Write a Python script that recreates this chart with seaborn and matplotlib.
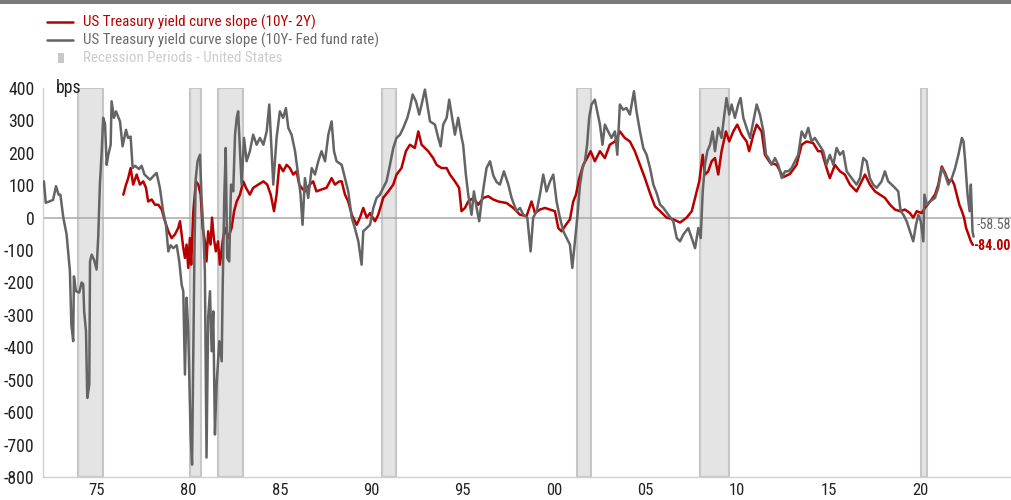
import numpy as np
import pandas as pd
import matplotlib
matplotlib.use("Agg")
import matplotlib.pyplot as plt
import seaborn as sns
from matplotlib import font_manager
from matplotlib.lines import Line2D
from matplotlib.patches import Rectangle

# ---------------------------------------------
#  data (decimal years / bps)
# ---------------------------------------------
fed_years = [1972.05, 1972.1, 1972.2, 1972.4, 1972.6, 1972.76, 1972.9, 1973.0, 1973.16, 1973.34,
             1973.52, 1973.6, 1973.7, 1973.74, 1973.85, 1974.03, 1974.16, 1974.25, 1974.3, 1974.4,
             1974.47, 1974.58, 1974.62, 1974.71, 1974.84, 1974.98, 1975.07, 1975.16, 1975.26, 1975.34,
             1975.44, 1975.53, 1975.62, 1975.75, 1975.8, 1975.93, 1976.04, 1976.26, 1976.4, 1976.59,
             1976.7, 1976.84, 1976.95, 1977.08, 1977.3, 1977.44, 1977.6, 1977.9, 1978.08, 1978.26,
             1978.44, 1978.62, 1978.77, 1978.9, 1979.03, 1979.17, 1979.36, 1979.5, 1979.63, 1979.72,
             1979.81, 1979.9, 1979.99, 1980.12, 1980.2, 1980.27, 1980.33, 1980.4, 1980.5, 1980.63,
             1980.72, 1980.81, 1980.9, 1980.99, 1981.08, 1981.18, 1981.27, 1981.36, 1981.45, 1981.54,
             1981.69, 1981.82, 1981.87, 1981.96, 1982.04, 1982.12, 1982.23, 1982.33, 1982.45, 1982.55,
             1982.64, 1982.72, 1982.82, 1982.91, 1983.04, 1983.18, 1983.36, 1983.54, 1983.73, 1983.91,
             1984.1, 1984.28, 1984.42, 1984.55, 1984.64, 1984.82, 1985.0, 1985.18, 1985.33, 1985.46,
             1985.64, 1985.83, 1986.0, 1986.13, 1986.24, 1986.37, 1986.55, 1986.74, 1986.92, 1987.1,
             1987.28, 1987.47, 1987.65, 1987.83, 1987.96, 1988.1, 1988.38, 1988.56, 1988.74, 1988.93,
             1989.1, 1989.29, 1989.47, 1989.56, 1989.75, 1989.93, 1990.11, 1990.29, 1990.47, 1990.65,
             1990.83, 1991.02, 1991.2, 1991.38, 1991.57, 1991.75, 1991.97, 1992.11, 1992.26, 1992.44,
             1992.62, 1992.75, 1992.93, 1993.06, 1993.21, 1993.48, 1993.66, 1993.79, 1993.93, 1994.12,
             1994.26, 1994.39, 1994.57, 1994.75, 1994.94, 1995.02, 1995.17, 1995.3, 1995.48, 1995.61,
             1995.76, 1995.9, 1996.03, 1996.16, 1996.3, 1996.49, 1996.67, 1996.85, 1997.03, 1997.25,
             1997.49, 1997.67, 1997.94, 1998.13, 1998.31, 1998.53, 1998.71, 1998.85, 1999.04, 1999.22,
             1999.4, 1999.58, 1999.77, 1999.95, 2000.13, 2000.31, 2000.5, 2000.68, 2000.86, 2000.99,
             2001.13, 2001.26, 2001.41, 2001.55, 2001.68, 2001.8, 2001.91, 2002.04, 2002.22, 2002.35,
             2002.5, 2002.64, 2002.77, 2002.95, 2003.13, 2003.32, 2003.45, 2003.59, 2003.77, 2003.95,
             2004.14, 2004.36, 2004.5, 2004.69, 2004.87, 2005.05, 2005.24, 2005.42, 2005.6, 2005.79,
             2005.97, 2006.24, 2006.51, 2006.7, 2006.88, 2007.06, 2007.33, 2007.52, 2007.7, 2007.88,
             2008.01, 2008.12, 2008.24, 2008.37, 2008.52, 2008.66, 2008.79, 2008.97, 2009.15, 2009.28,
             2009.42, 2009.57, 2009.7, 2009.88, 2010.06, 2010.19, 2010.34, 2010.52, 2010.71, 2010.89,
             2011.07, 2011.25, 2011.44, 2011.58, 2011.71, 2011.89, 2012.07, 2012.25, 2012.44, 2012.62,
             2012.8, 2012.98, 2013.16, 2013.34, 2013.53, 2013.71, 2013.89, 2014.07, 2014.25, 2014.43,
             2014.71, 2014.89, 2015.07, 2015.26, 2015.44, 2015.62, 2015.8, 2015.99, 2016.26, 2016.53,
             2016.72, 2016.9, 2017.08, 2017.26, 2017.44, 2017.63, 2017.9, 2018.08, 2018.26, 2018.45,
             2018.63, 2018.81, 2018.94, 2019.09, 2019.27, 2019.45, 2019.63, 2019.78, 2019.91, 2020.04,
             2020.18, 2020.24, 2020.37, 2020.55, 2020.82, 2021.0, 2021.19, 2021.37, 2021.55, 2021.74,
             2021.92, 2022.1, 2022.29, 2022.38, 2022.47, 2022.6, 2022.71, 2022.78, 2022.87, 2022.93]
fed_bps = [110, 112, 46, 50, 55, 97, 71, 71, 0, -52,
           -165, -330, -381, -181, -227, -231, -200, -205, -289, -350,
           -556, -515, -135, -114, -130, -160, -58, 102, 205, 308,
           290, 163, 194, 225, 359, 308, 328, 297, 220, 271,
           246, 250, 153, 160, 150, 160, 133, 117, 128, 138,
           92, 19, -22, -104, -85, -94, -85, -135, -207, -227,
           -484, -247, -350, -669, -762, -400, -100, 120, 174, 194,
           60, -31, -165, -740, -309, -227, -412, -289, -669, -515,
           -381, -443, -227, 61, 215, -124, -135, 102, 81, 256,
           308, 328, 205, 102, 246, 174, 205, 256, 225, 246,
           225, 266, 349, 205, 102, 246, 328, 308, 338, 277,
           256, 205, 133, 71, -22, 122, 61, 153, 133, 174,
           205, 174, 256, 297, 205, 174, 163, 122, 81, 0,
           -32, -73, -145, -42, -32, -22, 30, 61, 71, 92,
           112, 163, 215, 246, 256, 277, 308, 338, 380, 359,
           318, 349, 395, 349, 297, 287, 246, 220, 287, 308,
           364, 318, 256, 308, 246, 225, 133, 71, 9, 81,
           30, -11, 50, 102, 153, 174, 130, 110, 102, 143,
           102, 61, 20, 30, 9, 0, -104, 0, 20, 71,
           133, 81, 112, 133, 50, 0, -42, -63, -83, -155,
           -73, 0, 102, 153, 174, 225, 308, 349, 364, 328,
           287, 225, 287, 266, 246, 266, 194, 349, 333, 338,
           318, 390, 328, 266, 215, 194, 153, 102, 76, 40,
           30, 9, -11, -63, -73, -52, -32, -63, -94, -32,
           -63, 81, 163, 205, 225, 266, 205, 277, 246, 308,
           369, 318, 349, 308, 349, 369, 308, 277, 246, 297,
           349, 318, 266, 194, 184, 163, 184, 163, 122, 143,
           143, 153, 174, 194, 266, 246, 277, 235, 246, 230,
           205, 163, 194, 163, 215, 194, 205, 143, 122, 102,
           122, 184, 174, 122, 102, 92, 112, 143, 112, 102,
           92, 81, 20, 9, -11, -42, -73, -22, 9, -11,
           -73, 71, 40, 50, 61, 92, 153, 133, 102, 122,
           153, 194, 246, 235, 174, 71, 20, 102, -42, -58.58]

slope_years = [1976.44, 1976.59, 1976.71, 1976.84, 1976.98, 1977.17, 1977.35, 1977.53, 1977.68, 1977.8,
               1977.99, 1978.17, 1978.35, 1978.54, 1978.72, 1978.9, 1979.08, 1979.26, 1979.44, 1979.54,
               1979.63, 1979.72, 1979.81, 1979.9, 1979.99, 1980.08, 1980.15, 1980.27, 1980.41, 1980.54,
               1980.67, 1980.78, 1980.9, 1980.99, 1981.08, 1981.21, 1981.29, 1981.39, 1981.5, 1981.62,
               1981.72, 1981.87, 1981.99, 1982.17, 1982.36, 1982.5, 1982.64, 1982.82, 1983.0, 1983.15,
               1983.36, 1983.54, 1983.82, 1984.1, 1984.31, 1984.5, 1984.68, 1984.82, 1984.97, 1985.18,
               1985.37, 1985.55, 1985.73, 1985.91, 1986.06, 1986.19, 1986.37, 1986.64, 1986.82, 1987.0,
               1987.28, 1987.55, 1987.83, 1988.01, 1988.25, 1988.38, 1988.56, 1988.74, 1988.93, 1989.2,
               1989.38, 1989.56, 1989.75, 1989.93, 1990.2, 1990.38, 1990.65, 1990.93, 1991.2, 1991.38,
               1991.65, 1991.89, 1992.11, 1992.38, 1992.57, 1992.75, 1992.93, 1993.11, 1993.38, 1993.57,
               1993.84, 1994.12, 1994.3, 1994.57, 1994.8, 1994.93, 1995.12, 1995.3, 1995.58, 1995.85,
               1996.12, 1996.39, 1996.67, 1996.94, 1997.4, 1997.76, 1998.13, 1998.49, 1998.76, 1998.95,
               1999.22, 1999.49, 1999.77, 2000.04, 2000.22, 2000.4, 2000.64, 2000.86, 2001.04, 2001.19,
               2001.37, 2001.59, 2001.8, 2001.99, 2002.22, 2002.5, 2002.77, 2003.04, 2003.32, 2003.59,
               2003.86, 2004.14, 2004.41, 2004.69, 2004.96, 2005.24, 2005.51, 2005.79, 2006.15, 2006.51,
               2006.88, 2007.24, 2007.52, 2007.7, 2007.93, 2008.12, 2008.24, 2008.42, 2008.61, 2008.79,
               2008.97, 2009.15, 2009.39, 2009.57, 2009.79, 2010.01, 2010.25, 2010.52, 2010.66, 2010.89,
               2011.07, 2011.34, 2011.52, 2011.8, 2012.16, 2012.53, 2012.89, 2013.25, 2013.53, 2013.8,
               2014.16, 2014.43, 2014.62, 2014.89, 2015.07, 2015.35, 2015.62, 2015.89, 2016.17, 2016.53,
               2016.81, 2016.99, 2017.26, 2017.54, 2017.81, 2018.08, 2018.36, 2018.63, 2018.9, 2019.18,
               2019.45, 2019.63, 2019.82, 2020.09, 2020.27, 2020.55, 2020.82, 2021.0, 2021.19, 2021.37,
               2021.55, 2021.74, 2021.87, 2022.01, 2022.15, 2022.29, 2022.41, 2022.52, 2022.65, 2022.78,
               2022.89]
slope_bps = [71, 102, 122, 153, 102, 133, 102, 112, 92, 50,
             56, 40, 40, 25, -11, -42, -63, -52, -32, -11,
             -52, -93, -124, -83, -155, -63, -145, 20, 112, 102,
             71, -32, -73, -135, -42, -83, 0, -63, -104, -73,
             -145, -73, -32, -63, -32, 20, 50, 71, 112, 92,
             71, 92, 102, 112, 102, 71, 20, 71, 163, 143,
             163, 153, 133, 143, 102, 92, 81, 102, 112, 81,
             87, 92, 122, 102, 112, 112, 71, 50, 9, -22,
             0, 30, 0, 14, -11, 9, 61, 81, 102, 133,
             153, 205, 225, 215, 266, 225, 215, 205, 184, 163,
             153, 153, 133, 112, 92, 20, 30, 50, 61, 40,
             61, 66, 56, 50, 45, 30, 9, 5, 50, 14,
             25, 30, 25, 20, -32, -42, -22, -5, 50, 71,
             122, 163, 184, 205, 174, 205, 184, 225, 235, 266,
             246, 235, 205, 163, 122, 75, 35, 20, 0, -5,
             -15, 0, 20, 61, 112, 194, 133, 143, 174, 184,
             133, 205, 266, 235, 266, 287, 256, 235, 205, 256,
             287, 266, 194, 170, 163, 125, 135, 163, 225, 235,
             230, 205, 205, 153, 122, 163, 143, 133, 102, 81,
             112, 133, 102, 81, 71, 61, 40, 25, 20, 25,
             14, 0, 20, 14, 30, 50, 71, 102, 158, 138,
             112, 117, 102, 71, 40, 20, 0, -32, -52, -73,
             -84]

rec_start = [1973.95, 1980.08, 1981.6, 1990.57, 2001.24, 2007.95, 2020.05]
rec_end = [1975.35, 1980.68, 1983.0, 1991.33, 2002.01, 2009.55, 2020.36]

tick_years = [1975, 1980, 1985, 1990, 1995, 2000, 2005, 2010, 2015, 2020]
tick_labels = ['75', '80', '85', '90', '95', '00', '05', '10', '15', '20']
y_ticks = list(range(-800, 401, 100))

label_2y = 'US Treasury yield curve slope (10Y- 2Y)'
label_fed = 'US Treasury yield curve slope (10Y- Fed fund rate)'
label_rec = 'Recession Periods - United States'

RED = '#b80000'
GREY = '#646464'

# ---------------------------------------------
#  font: look for a narrow / condensed face, the reference uses one
# ---------------------------------------------
sns.set_style('white')
fams = {f.name for f in font_manager.fontManager.ttflist}
cond = [f for f in font_manager.fontManager.ttflist
        if f.stretch in ('condensed', 'semi-condensed', 'extra-condensed')]
stretch = 'normal'
family = 'DejaVu Sans'
for cand in ['Liberation Sans Narrow', 'Roboto Condensed', 'Open Sans Condensed',
             'DejaVu Sans Condensed', 'Noto Sans Condensed']:
    if cand in fams:
        family = cand
        break
else:
    if cond:
        family = cond[0].name
        stretch = 'condensed'
plt.rcParams['font.family'] = [family, 'DejaVu Sans']
plt.rcParams['font.stretch'] = stretch

fig = plt.figure(figsize=(10.12, 5), dpi=100)
W, H = 1012.0, 500.0

# scale the font so the first legend row is about as wide as in the picture
probe = fig.text(0, 0, label_2y, fontsize=11)
rend = fig.canvas.get_renderer()
fs = 11 * 232.0 / probe.get_window_extent(rend).width
probe.remove()
fs = min(fs, 11.5)

ax = fig.add_axes([0.0425, 0.046, 0.9575, 0.778])

for s, e in zip(rec_start, rec_end):
    ax.axvspan(s, e, facecolor='#e4e4e4', edgecolor='#c6c6c6', lw=1.5, zorder=0)

ax.axhline(0, color='#a8a8a8', lw=1.1, zorder=1)

sns.lineplot(x=slope_years, y=slope_bps, ax=ax, color=RED, lw=1.8,
             sort=False, estimator=None, zorder=3)
sns.lineplot(x=fed_years, y=fed_bps, ax=ax, color=GREY, lw=1.8,
             sort=False, estimator=None, zorder=4)

ax.set_xlim(1972.05, 2025.03)
ax.set_ylim(-800, 400)
ax.set_xticks(tick_years)
ax.set_xticklabels(tick_labels)
ax.set_yticks(y_ticks)
ax.set_yticklabels([str(v) for v in y_ticks])
ax.set_xlabel('')
ax.set_ylabel('')

for side in ['top', 'right']:
    ax.spines[side].set_visible(False)
for side in ['left', 'bottom']:
    ax.spines[side].set_color('#d0d0d0')
    ax.spines[side].set_linewidth(1.0)
ax.tick_params(axis='both', length=4, width=1, color='#d0d0d0',
               labelcolor='#222222')
ax.tick_params(axis='y', labelsize=fs * 1.18, pad=2)
ax.tick_params(axis='x', labelsize=fs * 1.1, pad=1, length=3)

ax.text(0.0134, 1.0, 'bps', transform=ax.transAxes, ha='left', va='center',
        fontsize=fs * 1.18, color='#222222')

# end labels, right aligned to the figure edge so they stay inside
ax.annotate('-58.58', xy=(1011 / W, fed_bps[-1]), xycoords=('figure fraction', 'data'),
            xytext=(0, 8.6), textcoords='offset points', ha='right', va='center',
            fontsize=fs * 0.92, color=GREY, annotation_clip=False)
ax.annotate('-84.00', xy=(1011 / W, slope_bps[-1]), xycoords=('figure fraction', 'data'),
            xytext=(0, -1.0), textcoords='offset points', ha='right', va='center',
            fontsize=fs * 0.92, color=RED, fontweight='bold', annotation_clip=False)

# top bar
fig.add_artist(Rectangle((0, 1 - 4 / H), 1, 4 / H, transform=fig.transFigure,
                         facecolor='#7b7b7b', edgecolor='none'))

# legend (drawn by hand)
fig.add_artist(Line2D([47 / W, 73 / W], [1 - 22 / H, 1 - 22 / H], color=RED, lw=1.8))
fig.add_artist(Line2D([47 / W, 73 / W], [1 - 40 / H, 1 - 40 / H], color=GREY, lw=1.8))
fig.add_artist(Rectangle((58 / W, 1 - 63 / H), 6 / W, 10 / H, transform=fig.transFigure,
                         facecolor='#c8c8c8', edgecolor='none'))
fig.text(83 / W, 1 - 22 / H, label_2y, ha='left', va='center', fontsize=fs, color=RED)
fig.text(83 / W, 1 - 40 / H, label_fed, ha='left', va='center', fontsize=fs, color='#6a6a6a')
fig.text(83 / W, 1 - 58 / H, label_rec, ha='left', va='center', fontsize=fs, color='#cccccc')

fig.savefig('out.png', dpi=100)
